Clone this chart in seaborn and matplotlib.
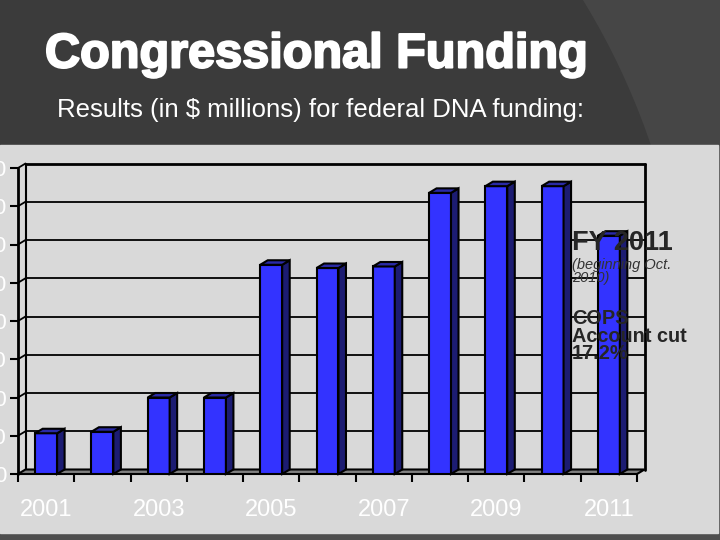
import matplotlib
matplotlib.use("Agg")
import matplotlib.pyplot as plt
import matplotlib.patheffects as pe
from matplotlib.patches import Polygon, Rectangle, Circle
import seaborn as sns
import pandas as pd

# federal DNA funding, $ millions
years = ["2001", "2002", "2003", "2004", "2005", "2006",
         "2007", "2008", "2009", "2010", "2011"]
funding = [21.3, 22.1, 40.0, 40.0, 109.4, 107.7, 108.5, 147.0, 150.5, 150.5, 124.6]
year_labels = [y if int(y) % 2 == 1 else "" for y in years]
y_ticks = [0, 20, 40, 60, 80, 100, 120, 140, 160]

df = pd.DataFrame({"year": years, "funding": funding})

sns.set_theme(style="white")
plt.rcParams["font.family"] = ["Liberation Sans", "DejaVu Sans"]

W, H = 720, 540
fig = plt.figure(figsize=(7.2, 5.4), dpi=100, facecolor="#4e4e4e")

# background slide (pixel coords, y down)
bg = fig.add_axes([0, 0, 1, 1], zorder=-5)
bg.set_xlim(0, W)
bg.set_ylim(H, 0)
bg.axis("off")
band = Rectangle((0, 0), W, 145, color="#464646")
bg.add_patch(band)
swoosh = Circle((-29, 375), 717, color="#3b3b3b")
bg.add_patch(swoosh)
swoosh.set_clip_path(band)
bg.add_patch(Rectangle((0, 145), 718, 388, color="#d9d9d9"))

# main chart
ax_l, ax_b, ax_w, ax_h = 18, 66, 619, 306
ax = fig.add_axes([ax_l / W, ax_b / H, ax_w / W, ax_h / H])
ax.set_facecolor("none")

sns.barplot(data=df, x="year", y="funding", order=years, color="#3333ff",
            saturation=1, width=0.39, edgecolor="black", linewidth=1.5,
            errorbar=None, zorder=4, ax=ax)
bars = list(ax.patches)

ax.set_xlim(-0.5, len(years) - 0.5)
ax.set_ylim(0, 160)
for s in ax.spines.values():
    s.set_visible(False)

# 3d depth expressed in data units
dx = 7.5 * len(years) / ax_w
dy = 4.5 * 160 / ax_h
x0, x1 = -0.5, len(years) - 0.5
lk = dict(color="black", clip_on=False)

ax.add_patch(Polygon([(x0, 0), (x1, 0), (x1 + dx, dy), (x0 + dx, dy)],
                     closed=True, facecolor="#808080", edgecolor="black",
                     lw=1.5, zorder=2, clip_on=False))
for v in y_ticks[1:]:
    ax.plot([x0 + dx, x1 + dx], [v + dy, v + dy], lw=2 if v == 160 else 1.3, zorder=1, **lk)
    ax.plot([x0, x0 + dx], [v, v + dy], lw=1.3, zorder=1, **lk)
ax.plot([x0 + dx, x0 + dx], [dy, 160 + dy], lw=1.5, zorder=1, **lk)
ax.plot([x1 + dx, x1 + dx], [dy, 160 + dy], lw=2, zorder=1, **lk)
ax.plot([x0, x0], [0, 160], lw=2, zorder=3, **lk)

# side and top faces of each bar
for p in bars:
    bx, bw, bh = p.get_x(), p.get_width(), p.get_height()
    side = [(bx + bw, 0), (bx + bw + dx, dy), (bx + bw + dx, bh + dy), (bx + bw, bh)]
    top = [(bx, bh), (bx + bw, bh), (bx + bw + dx, bh + dy), (bx + dx, bh + dy)]
    ax.add_patch(Polygon(side, closed=True, facecolor="#1c1c72", edgecolor="black",
                         lw=1.5, zorder=4, clip_on=False))
    ax.add_patch(Polygon(top, closed=True, facecolor="#2a2aa6", edgecolor="black",
                         lw=1.5, zorder=4, clip_on=False))

ax.set_yticks(y_ticks)
ax.set_yticklabels([str(v) for v in y_ticks])
ax.tick_params(axis="y", left=True, length=6, width=1.5, color="black",
               labelcolor="white", labelsize=16, pad=2)
ax.set_xticks(range(len(years)))
ax.set_xticklabels(year_labels)
ax.set_xticks([i - 0.5 for i in range(len(years) + 1)], minor=True)
ax.tick_params(axis="x", which="major", bottom=True, length=0,
               labelcolor="white", labelsize=17, pad=18)
ax.tick_params(axis="x", which="minor", bottom=True, length=6, width=1.5, color="black")
ax.set_xlabel("")
ax.set_ylabel("")

# titles
fig.text(45 / W, 1 - 55 / H, "Congressional Funding", color="white",
         fontsize=35, fontweight="bold", va="center", ha="left",
         path_effects=[pe.withStroke(linewidth=1.5, foreground="white")])
fig.text(57 / W, 1 - 110 / H, "Results (in $ millions) for federal DNA funding:",
         color="white", fontsize=18.5, va="center", ha="left")

# notes
fig.text(572 / W, 1 - 243 / H, "FY 2011", color="#262626", fontsize=19.5,
         fontweight="bold", va="center", ha="left", zorder=6)
fig.text(572 / W, 1 - 258 / H, "(beginning Oct.\n2010)", color="#333333",
         fontsize=10.5, style="italic", va="top", ha="left",
         linespacing=0.95, zorder=6)
fig.text(572 / W, 1 - 309 / H, "COPS\nAccount cut\n17.2%", color="#262626",
         fontsize=14.3, fontweight="bold", va="top", ha="left",
         linespacing=0.9, zorder=6)

fig.savefig("out.png", dpi=100, facecolor=fig.get_facecolor())
